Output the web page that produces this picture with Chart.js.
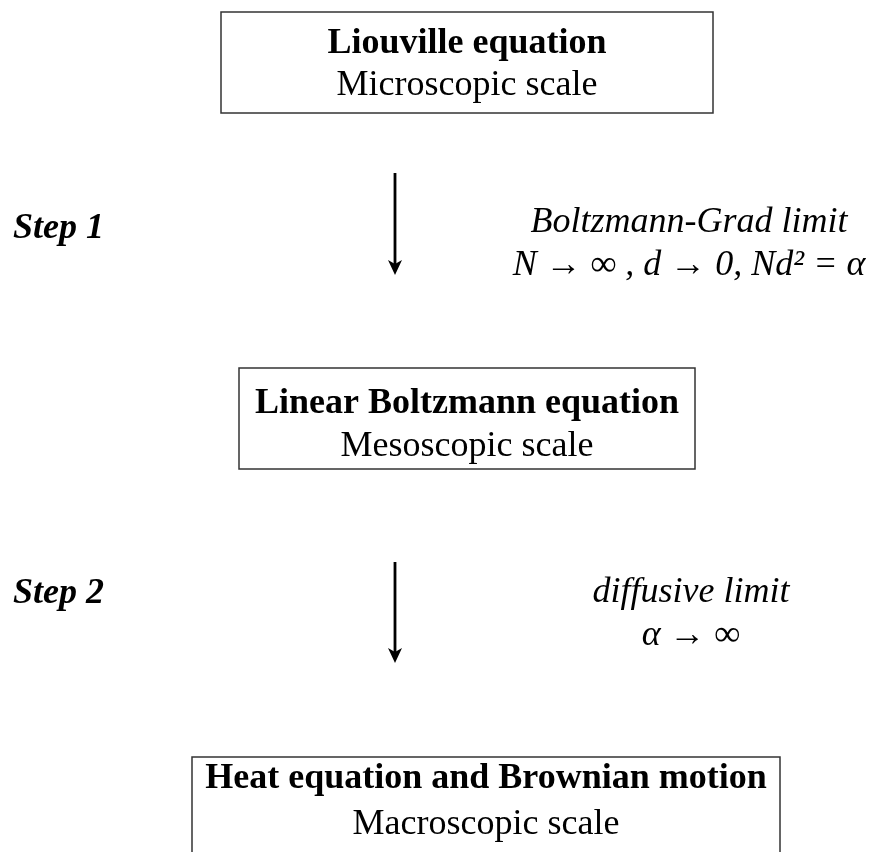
<!DOCTYPE html>
<html>
<head>
<meta charset="utf-8">
<script src="https://cdn.jsdelivr.net/npm/chart.js@4.4.0/dist/chart.umd.min.js"></script>
<style>
  html, body { margin: 0; padding: 0; background: #fff; }
  canvas { display: block; }
</style>
</head>
<body>
<canvas id="chart" width="878" height="852"></canvas>
<script>
// diagram content
const stageTitles = ['Liouville equation', 'Linear Boltzmann equation', 'Heat equation and Brownian motion'];
const stageScales = ['Microscopic scale', 'Mesoscopic scale', 'Macroscopic scale'];
const stepLabels = ['Step 1', 'Step 2'];
const limitNames = ['Boltzmann-Grad limit', 'diffusive limit'];
const limitConditions = ['N \u2192 \u221E , d \u2192 0, Nd\u00B2 = \u03B1', '\u03B1 \u2192 \u221E'];

// layout in page units (x right, y down)
const boxLayout = [
  { x0: 221, x1: 713, y0: 12, y1: 113, b1: 53, b2: 95 },
  { x0: 239, x1: 695, y0: 368, y1: 469, b1: 413, b2: 456 },
  { x0: 192, x1: 780, y0: 757, y1: 880, b1: 788, b2: 834 }
];
const arrowLayout = [
  { x: 395, y0: 173, y1: 275 },
  { x: 395, y0: 562, y1: 663 }
];
const stepLayout = [{ x: 13, y: 238 }, { x: 13, y: 603 }];
const limitLayout = [{ x: 689, y1: 232, y2: 275 }, { x: 691, y1: 602, y2: 645 }];

const serif = '"Liberation Serif", "Times New Roman", serif';

const diagramPlugin = {
  id: 'diagram',
  afterDatasetsDraw(chart) {
    const ctx = chart.ctx;
    const xs = chart.scales.x, ys = chart.scales.y;
    const px = v => xs.getPixelForValue(v);
    const py = v => ys.getPixelForValue(v);
    ctx.save();

    // boxes with two lines of text
    boxLayout.forEach((b, i) => {
      ctx.strokeStyle = '#333';
      ctx.lineWidth = 1.5;
      ctx.strokeRect(px(b.x0), py(b.y0), px(b.x1) - px(b.x0), py(b.y1) - py(b.y0));
      const cx = px((b.x0 + b.x1) / 2);
      ctx.fillStyle = '#000';
      ctx.textAlign = 'center';
      ctx.textBaseline = 'alphabetic';
      ctx.font = 'bold 36px ' + serif;
      ctx.fillText(stageTitles[i], cx, py(b.b1));
      ctx.font = '36px ' + serif;
      ctx.fillText(stageScales[i], cx, py(b.b2));
    });

    // step labels
    ctx.textAlign = 'left';
    ctx.font = 'italic bold 36px ' + serif;
    stepLabels.forEach((s, i) => {
      ctx.fillText(s, px(stepLayout[i].x), py(stepLayout[i].y));
    });

    // limit descriptions
    ctx.textAlign = 'center';
    ctx.font = 'italic 36px ' + serif;
    limitNames.forEach((s, i) => {
      const l = limitLayout[i];
      ctx.fillText(s, px(l.x), py(l.y1));
      ctx.fillText(limitConditions[i], px(l.x), py(l.y2));
    });

    // arrow heads at the end of each arrow dataset
    chart.data.datasets.forEach((ds, i) => {
      const pts = chart.getDatasetMeta(i).data;
      const tip = pts[pts.length - 1];
      const tx = tip.x, ty = tip.y + 8;
      ctx.fillStyle = '#000';
      ctx.beginPath();
      ctx.moveTo(tx, ty);
      ctx.lineTo(tx - 7, ty - 15);
      ctx.lineTo(tx, ty - 11);
      ctx.lineTo(tx + 7, ty - 15);
      ctx.closePath();
      ctx.fill();
    });
    ctx.restore();
  }
};

const datasets = arrowLayout.map(a => ({
  data: [{ x: a.x, y: a.y0 }, { x: a.x, y: a.y1 - 8 }],
  showLine: true,
  borderColor: '#000',
  borderWidth: 2.8,
  pointRadius: 0,
  fill: false
}));

new Chart(document.getElementById('chart').getContext('2d'), {
  type: 'scatter',
  data: { datasets: datasets },
  options: {
    responsive: false,
    animation: false,
    devicePixelRatio: 1,
    layout: { padding: 0 },
    plugins: { legend: { display: false }, tooltip: { enabled: false } },
    scales: {
      x: { type: 'linear', min: 0, max: 878, display: false },
      y: { type: 'linear', min: 0, max: 852, reverse: true, display: false }
    }
  },
  plugins: [diagramPlugin]
});
</script>
</body>
</html>
